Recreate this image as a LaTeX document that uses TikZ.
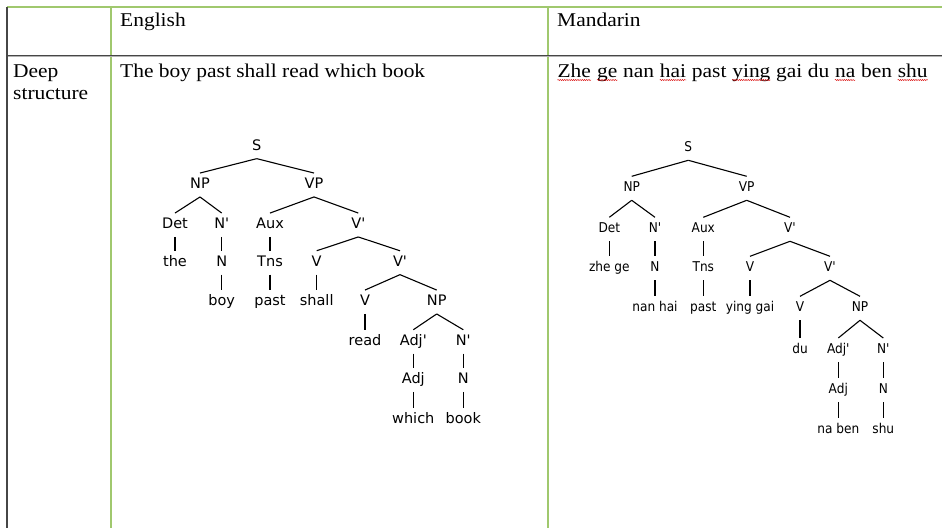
\documentclass[tikz,border=0pt]{standalone}
\usepackage{fontspec}
\setmainfont{Liberation Serif}[FakeStretch=1.1]
\newfontfamily\etreefont{DejaVu Sans}
\newfontfamily\mtreefont{DejaVu Sans}[FakeStretch=0.9]
\usetikzlibrary{decorations.pathmorphing}
\definecolor{tgreen}{RGB}{160,200,110}
\definecolor{tdark}{RGB}{70,70,70}
\newcommand\squig[1]{\tikz[baseline=(sqw.base)]{\node[inner sep=0pt,text depth=0pt](sqw){#1};\draw[red!85!black,line width=0.45pt,decorate,decoration={snake,amplitude=0.55pt,segment length=2.2pt}]([yshift=-3pt]sqw.base west)--([yshift=-3pt]sqw.base east);}}
\tikzset{
  cell/.style={font=\fontsize{19.5}{22.5}\selectfont, inner sep=0pt, anchor=base west},
  et/.style={font=\etreefont\fontsize{14.5}{16}\selectfont, inner xsep=1pt, inner ysep=5.5pt, text height=10pt, text depth=2.5pt},
  mt/.style={font=\mtreefont\fontsize{13.5}{15}\selectfont, inner xsep=1pt, inner ysep=5.8pt, text height=9.5pt, text depth=2.5pt},
  br/.style={line width=1.1pt},
  gline/.style={tgreen, line width=1.2pt},
  dline/.style={tdark, line width=1.2pt}
}
\begin{document}
\begin{tikzpicture}[x=1pt,y=-1pt]
\useasboundingbox (0,0) rectangle (942,528);
\fill[white] (0,0) rectangle (942,528);
% table rules
\coordinate (tl) at (7,7);
\coordinate (tr) at (942,7);
\coordinate (bl) at (7,528);
\coordinate (c1t) at (111,7);
\coordinate (c1b) at (111,528);
\coordinate (c2t) at (548,7);
\coordinate (c2b) at (548,528);
\coordinate (ml) at (7,55.5);
\coordinate (mr) at (942,55.5);
\draw[gline] (tl) -- (tr);
\draw[gline] (c1t) -- (c1b);
\draw[gline] (c2t) -- (c2b);
\draw[gray!60, line width=1pt] ([yshift=-1pt]ml) -- ([yshift=-1pt]mr);
\draw[tdark, line width=1pt] (ml) -- (mr);
\draw[dline] (tl) -- (bl);
% cell texts
\node[cell] (hEn) at (120,26.5) {English};
\node[cell] (hMa) at (557,26.5) {Mandarin};
\node[cell] (deep) at (13,77) {Deep};
\node[cell] (struct) at (13,99) {structure};
\node[cell] (senE) at (120,77) {The boy past shall read which book};
\node[cell] (senM) at (557,77) {\squig{Zhe} \squig{ge} nan \squig{hai} past \squig{ying} gai du \squig{na} ben \squig{shu}};
% English tree
\def\La{146.7}\def\Lb{185}\def\Lc{225}\def\Ld{262.7}\def\Le{302}\def\Lf{341.7}\def\Lg{380}\def\Lh{420}
\node[et] (eS) at (256.7,\La) {S};
\node[et] (eNP) at (200,\Lb) {NP};
\node[et] (eVP) at (314,\Lb) {VP};
\node[et] (eDet) at (175,\Lc) {Det};
\node[et] (eNb) at (221.7,\Lc) {N'};
\node[et] (eAux) at (270,\Lc) {Aux};
\node[et] (eVb) at (358.3,\Lc) {V'};
\node[et] (ethe) at (175,\Ld) {the};
\node[et] (eN) at (221.7,\Ld) {N};
\node[et] (eTns) at (270,\Ld) {Tns};
\node[et] (eV1) at (316.7,\Ld) {V};
\node[et] (eVb2) at (400,\Ld) {V'};
\node[et] (eboy) at (221.7,\Le) {boy};
\node[et] (epast) at (270,\Le) {past};
\node[et] (eshall) at (316.7,\Le) {shall};
\node[et] (eV2) at (365,\Le) {V};
\node[et] (eNP2) at (436.7,\Le) {NP};
\node[et] (eread) at (365,\Lf) {read};
\node[et] (eAdjb) at (413.3,\Lf) {Adj'};
\node[et] (eNb2) at (463.3,\Lf) {N'};
\node[et] (eAdj) at (413.3,\Lg) {Adj};
\node[et] (eN2) at (463.3,\Lg) {N};
\node[et] (ewhich) at (413.3,\Lh) {which};
\node[et] (ebook) at (463.3,\Lh) {book};
\foreach \p/\c in {eS/eNP,eS/eVP,eNP/eDet,eNP/eNb,eVP/eAux,eVP/eVb,eDet/ethe,eNb/eN,eN/eboy,eAux/eTns,eTns/epast,eVb/eV1,eVb/eVb2,eV1/eshall,eVb2/eV2,eVb2/eNP2,eV2/eread,eNP2/eAdjb,eNP2/eNb2,eAdjb/eAdj,eAdj/ewhich,eNb2/eN2,eN2/ebook}
  \draw[br] (\p.south) -- (\c.north);
% Mandarin tree
\def\Ma{148.3}\def\Mb{188.3}\def\Mc{229.3}\def\Md{268.3}\def\Me{308.3}\def\Mf{350}\def\Mg{390}\def\Mh{430}
\node[mt] (mS) at (688.3,\Ma) {S};
\node[mt] (mNP) at (631.7,\Mb) {NP};
\node[mt] (mVP) at (746.7,\Mb) {VP};
\node[mt] (mDet) at (609.3,\Mc) {Det};
\node[mt] (mNb) at (655,\Mc) {N'};
\node[mt] (mAux) at (703.3,\Mc) {Aux};
\node[mt] (mVb) at (790,\Mc) {V'};
\node[mt] (mzhege) at (609.3,\Md) {zhe ge};
\node[mt] (mN) at (655,\Md) {N};
\node[mt] (mTns) at (703.3,\Md) {Tns};
\node[mt] (mV1) at (750,\Md) {V};
\node[mt] (mVb2) at (830,\Md) {V'};
\node[mt] (mnanhai) at (655,\Me) {nan hai};
\node[mt] (mpast) at (703.3,\Me) {past};
\node[mt] (myinggai) at (750,\Me) {ying gai};
\node[mt] (mV2) at (800,\Me) {V};
\node[mt] (mNP2) at (860,\Me) {NP};
\node[mt] (mdu) at (800,\Mf) {du};
\node[mt] (mAdjb) at (838.3,\Mf) {Adj'};
\node[mt] (mNb2) at (883.3,\Mf) {N'};
\node[mt] (mAdj) at (838.3,\Mg) {Adj};
\node[mt] (mN2) at (883.3,\Mg) {N};
\node[mt] (mnaben) at (838.3,\Mh) {na ben};
\node[mt] (mshu) at (883.3,\Mh) {shu};
\foreach \p/\c in {mS/mNP,mS/mVP,mNP/mDet,mNP/mNb,mVP/mAux,mVP/mVb,mDet/mzhege,mNb/mN,mN/mnanhai,mAux/mTns,mTns/mpast,mVb/mV1,mVb/mVb2,mV1/myinggai,mVb2/mV2,mVb2/mNP2,mV2/mdu,mNP2/mAdjb,mNP2/mNb2,mAdjb/mAdj,mAdj/mnaben,mNb2/mN2,mN2/mshu}
  \draw[br] (\p.south) -- (\c.north);
\end{tikzpicture}
\end{document}
